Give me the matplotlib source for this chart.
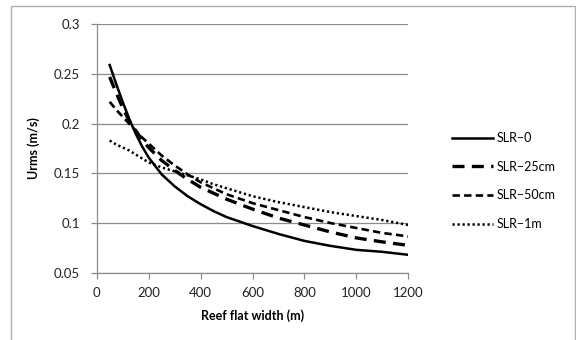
import matplotlib
matplotlib.use("Agg")
import matplotlib.pyplot as plt
from matplotlib.patches import Rectangle

# Data
width_m = [50, 75, 100, 125, 150, 175, 200, 250, 300, 350, 400, 450, 500, 600, 700, 800, 900, 1000, 1100, 1200]
slr_0 = [0.259, 0.240, 0.222, 0.205, 0.190, 0.177, 0.166, 0.149, 0.137, 0.127, 0.119, 0.112, 0.106, 0.097, 0.089, 0.082, 0.077, 0.073, 0.071, 0.068]
slr_25cm = [0.247, 0.231, 0.216, 0.203, 0.193, 0.184, 0.176, 0.163, 0.153, 0.144, 0.136, 0.130, 0.124, 0.114, 0.105, 0.098, 0.091, 0.085, 0.081, 0.0775]
slr_50cm = [0.222, 0.214, 0.207, 0.200, 0.193, 0.186, 0.180, 0.168, 0.158, 0.149, 0.141, 0.135, 0.129, 0.120, 0.113, 0.106, 0.100, 0.095, 0.090, 0.0865]
slr_1m = [0.183, 0.179, 0.176, 0.173, 0.169, 0.165, 0.161, 0.156, 0.152, 0.148, 0.144, 0.139, 0.135, 0.127, 0.121, 0.116, 0.111, 0.107, 0.103, 0.098]
labels = ["SLR\u22120", "SLR\u221225cm", "SLR\u221250cm", "SLR\u22121m"]
x_ticks = [0, 200, 400, 600, 800, 1000, 1200]
y_ticks = [0.05, 0.1, 0.15, 0.2, 0.25, 0.3]
y_ticklabels = ["0.05", "0.1", "0.15", "0.2", "0.25", "0.3"]

plt.rcParams['font.family'] = ['Lato', 'DejaVu Sans']

W, H = 576, 340
fig = plt.figure(figsize=(W / 100, H / 100), dpi=100)
fig.patch.set_facecolor('white')

l, r, t, b = 96.7, 408.3, 24.3, 272.7
ax = fig.add_axes([l / W, 1 - b / H, (r - l) / W, (b - t) / H])

ax.plot(width_m, slr_0, color='black', lw=1.8, ls='-', label=labels[0])
ax.plot(width_m, slr_25cm, color='black', lw=2.4, ls=(0, (3.6, 2.2)), label=labels[1])
ax.plot(width_m, slr_50cm, color='black', lw=1.9, ls=(0, (2.8, 1.6)), label=labels[2])
ax.plot(width_m, slr_1m, color='black', lw=1.8, ls=(0, (0.9, 1.1)), label=labels[3])

ax.set_xlim(0, 1200)
ax.set_ylim(0.05, 0.3)
ax.set_xticks(x_ticks)
ax.set_yticks(y_ticks)
ax.set_yticklabels(y_ticklabels)
ax.grid(axis='y', color='#8c8c8c', lw=0.9)
ax.set_axisbelow(True)
for s in ['top', 'right']:
    ax.spines[s].set_visible(False)
for s in ['left', 'bottom']:
    ax.spines[s].set_color('#8c8c8c')
    ax.spines[s].set_linewidth(0.9)
ax.tick_params(axis='both', colors='#8c8c8c', length=4, width=0.9, labelsize=9.5, labelcolor='#222222')
ax.tick_params(axis='x', pad=6)
ax.tick_params(axis='y', pad=8)

ax.set_xlabel("Reef flat width (m)", fontsize=9, fontweight='bold', labelpad=8)
ax.set_ylabel("Urms (m/s)", fontsize=9, fontweight='bold', labelpad=10)

leg = ax.legend(loc='upper left', bbox_to_anchor=(447 / W, 1 - 127 / H),
                bbox_transform=fig.transFigure, frameon=False, fontsize=9,
                handlelength=3.3, handletextpad=0.25, labelspacing=1.33,
                borderaxespad=0)

fig.add_artist(Rectangle((11 / W, -0.05), (575 - 11) / W, 1 - 6 / H + 0.05,
                         transform=fig.transFigure, fill=False,
                         edgecolor='#b0b0b0', lw=1.0))

fig.savefig("out.png", dpi=100)
